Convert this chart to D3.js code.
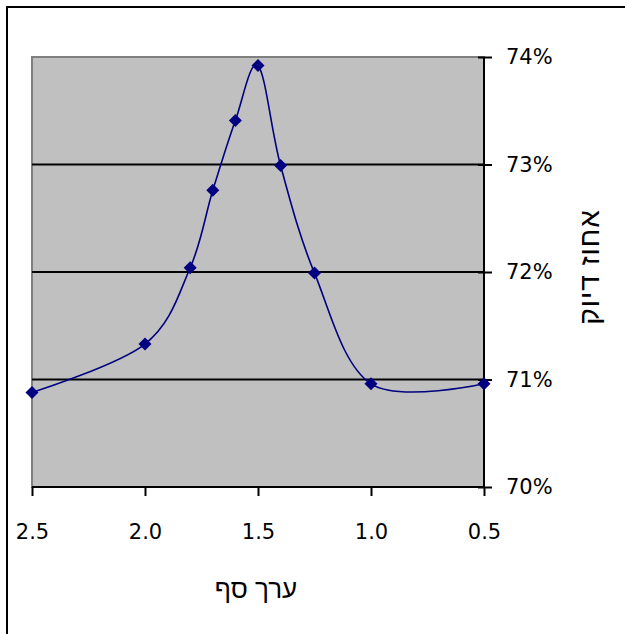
<!DOCTYPE html>
<html><head><meta charset="utf-8">
<script src="https://cdn.jsdelivr.net/npm/d3@7"></script>
<style>
html,body{margin:0;padding:0;background:#fff;}
svg{display:block;font-family:"DejaVu Sans",Verdana,sans-serif;}
</style></head>
<body>
<svg id="c" width="625" height="634"></svg>
<script>
const thresholds = [2.5, 2.0, 1.8, 1.7, 1.6, 1.5, 1.4, 1.25, 1.0, 0.5];
const accuracy   = [0.7088, 0.7133, 0.7204, 0.7276, 0.7341, 0.7392, 0.7299, 0.7199, 0.7096, 0.7096];
const xTicks = [2.5, 2.0, 1.5, 1.0, 0.5];
const yTicks = [0.70, 0.71, 0.72, 0.73, 0.74];
const xTitle = "ערך סף";
const yTitle = "אחוז דיוק";

const svg = d3.select("#c");
const L = 32, R = 484, T = 57, B = 487;
const x = d3.scaleLinear().domain([2.5, 0.5]).range([L, R]);
const y = d3.scaleLinear().domain([0.70, 0.74]).range([B, T]);

// outer chart border (extends beyond view on right/bottom)
svg.append("rect").attr("x", 7).attr("y", 7).attr("width", 700).attr("height", 700)
  .attr("fill", "#fff").attr("stroke", "#000").attr("stroke-width", 2);

// plot area
svg.append("rect").attr("x", L).attr("y", T).attr("width", R - L).attr("height", B - T)
  .attr("fill", "#C0C0C0").attr("stroke", "#808080").attr("stroke-width", 2);

// gridlines
svg.append("g").selectAll("line").data(yTicks.slice(1, -1)).join("line")
  .attr("x1", L).attr("x2", R).attr("y1", d => y(d)).attr("y2", d => y(d))
  .attr("stroke", "#000").attr("stroke-width", 2);

// y axis on right
const yAxis = svg.append("g").attr("transform", `translate(${R},0)`)
  .call(d3.axisRight(y).tickValues(yTicks).tickFormat(d3.format(".0%")).tickSize(8).tickPadding(14));
yAxis.select(".domain").attr("stroke", "#000").attr("stroke-width", 2).attr("d", `M0,${T}V${B}`);
yAxis.selectAll(".tick line").attr("x1", -6).attr("x2", 8).attr("stroke", "#000").attr("stroke-width", 2);
yAxis.selectAll(".tick text").attr("font-size", 21).attr("fill", "#000")
  .attr("font-family", "DejaVu Sans, sans-serif");

// x axis bottom
const xAxis = svg.append("g").attr("transform", `translate(0,${B})`)
  .call(d3.axisBottom(x).tickValues(xTicks).tickFormat(d3.format(".1f")).tickSize(9).tickPadding(28));
xAxis.select(".domain").attr("stroke", "#000").attr("stroke-width", 2).attr("d", `M${L},0H${R}`);
xAxis.selectAll(".tick line").attr("stroke", "#000").attr("stroke-width", 2);
xAxis.selectAll(".tick text").attr("font-size", 21).attr("fill", "#000")
  .attr("font-family", "DejaVu Sans, sans-serif");

// titles
svg.append("text").attr("x", 256).attr("y", 598).attr("text-anchor", "middle")
  .attr("font-family", "Liberation Sans, Arial, sans-serif")
  .attr("font-size", 26).attr("fill", "#000")
  .text(xTitle);
svg.append("text").attr("transform", "translate(589,267) rotate(-90)")
  .attr("text-anchor", "middle").attr("dominant-baseline", "central")
  .attr("font-family", "Liberation Sans, Arial, sans-serif")
  .attr("font-size", 28).attr("letter-spacing", 1).attr("fill", "#000").text(yTitle);

// line
const pts = thresholds.map((t, i) => [t, accuracy[i]]);
svg.append("path").datum(pts)
  .attr("d", d3.line().x(d => x(d[0])).y(d => y(d[1])).curve(d3.curveCatmullRom.alpha(0)))
  .attr("fill", "none").attr("stroke", "#000080").attr("stroke-width", 1.6);

// markers
svg.append("g").selectAll("path").data(pts).join("path")
  .attr("transform", d => `translate(${x(d[0])},${y(d[1])})`)
  .attr("d", "M0,-6.5L6.5,0L0,6.5L-6.5,0Z").attr("fill", "#000080");
</script>
</body></html>
